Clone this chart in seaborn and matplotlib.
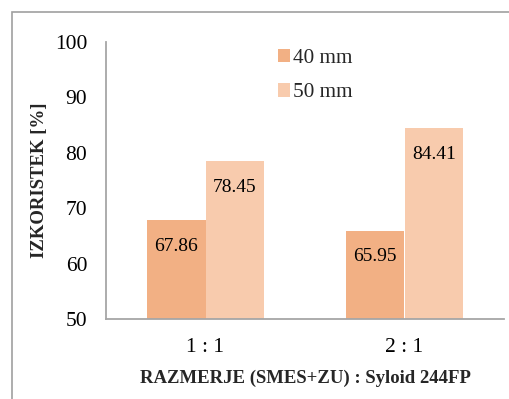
import matplotlib
matplotlib.use("Agg")
import matplotlib.pyplot as plt
import seaborn as sns
import pandas as pd
from matplotlib.patches import Rectangle

categories = ["1 : 1", "2 : 1"]
series_names = ["40 mm", "50 mm"]
values_40 = [67.86, 65.95]
values_50 = [78.45, 84.41]
y_ticks = [50, 60, 70, 80, 90, 100]

df = pd.DataFrame({
    "cat": categories * 2,
    "series": [series_names[0]] * 2 + [series_names[1]] * 2,
    "val": values_40 + values_50,
})

sns.set_theme(style="white")
plt.rcParams["font.family"] = ["Liberation Serif", "DejaVu Serif"]

fig = plt.figure(figsize=(5.10, 3.99), dpi=100)
ax = fig.add_axes([106 / 510, 1 - 319 / 399, (504 - 106) / 510, (319 - 42) / 399])

palette = {"40 mm": "#F2B084", "50 mm": "#F8CBAD"}
sns.barplot(data=df, x="cat", y="val", hue="series", palette=palette,
            width=0.59, ax=ax, saturation=1, edgecolor="none", linewidth=0,
            order=categories, hue_order=series_names)

ax.set_ylim(50, 100)
ax.set_yticks(y_ticks)
ax.set_xlim(-0.5, 1.5)
ax.tick_params(axis="both", length=0, labelsize=15.5, colors="#000000")
ax.tick_params(axis="y", pad=13.5)
ax.tick_params(axis="x", pad=14)

for c in ax.containers:
    ax.bar_label(c, fmt="%.2f", padding=-25, fontsize=14, color="#000000")

for s in ["top", "right"]:
    ax.spines[s].set_visible(False)
for s in ["left", "bottom"]:
    ax.spines[s].set_color("#A6A6A6")
    ax.spines[s].set_linewidth(1.3)

ax.set_xlabel("RAZMERJE (SMES+ZU) : Syloid 244FP", fontsize=13.5, fontweight="bold", labelpad=9)
ax.set_ylabel("IZKORISTEK [%]", fontsize=13.5, fontweight="bold", labelpad=5)

handles, labels = ax.get_legend_handles_labels()
ax.legend(handles, labels, frameon=False, loc="upper left",
          bbox_to_anchor=(267 / 510, 1 - 38 / 399), bbox_transform=fig.transFigure,
          fontsize=15.3, handlelength=0.6, handleheight=0.6, handletextpad=0.12,
          labelspacing=0.72, borderpad=0)

fig.patches.append(Rectangle((12 / 510, -0.1), 1.2, 1 - 12 / 399 + 0.1,
                             transform=fig.transFigure, fill=False,
                             edgecolor="#A0A0A0", linewidth=1.2))

fig.savefig("out.png", dpi=100, facecolor="white")
